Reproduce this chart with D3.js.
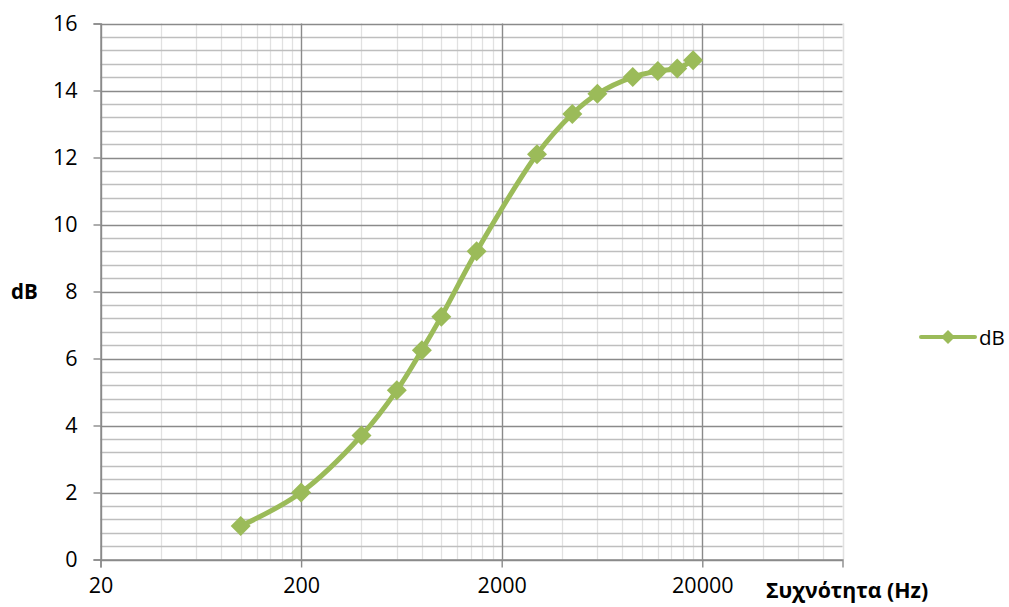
<!DOCTYPE html>
<html>
<head>
<meta charset="utf-8">
<script src="https://cdn.jsdelivr.net/npm/d3@7"></script>
<style>
  html, body { margin: 0; padding: 0; background: #ffffff; }
  svg { display: block; }
  text { font-family: "Open Sans", "Liberation Sans", sans-serif; fill: #000; }
</style>
</head>
<body>
<svg id="chart" width="1009" height="607"></svg>
<script>
// ---- data ----
const frequencies = [100, 200, 400, 600, 800, 1000, 1500, 3000, 4500, 6000, 9000, 12000, 15000, 18000];
const dbValues    = [1.0, 2.0, 3.7, 5.05, 6.25, 7.25, 9.2, 12.1, 13.3, 13.9, 14.4, 14.58, 14.66, 14.9];
const xTickLabels = [20, 200, 2000, 20000];
const yTickLabels = [0, 2, 4, 6, 8, 10, 12, 14, 16];
const seriesName = "dB";
const xTitle = "Συχνότητα (Hz)";
const yTitle = "dB";

const svg = d3.select("#chart");
const green = "#9BBB59";

const x = d3.scaleLog().base(10).domain([20, 100000]).range([100.5, 842.5]);
const y = d3.scaleLinear().domain([0, 16]).range([559.5, 23.5]);

// minor x gridlines: 20*k*10^n
const xMinor = [];
for (let dec = 20; dec < 100000; dec *= 10) {
  for (let k = 2; k <= 9; k++) {
    const v = dec * k;
    if (v <= 100000) xMinor.push(v);
  }
}
xMinor.push(100000);
const yMinor = d3.range(0, 16.001, 0.4).filter(v => Math.abs(v / 2 - Math.round(v / 2)) > 1e-6);

const grid = svg.append("g");
grid.selectAll(".vmin").data(xMinor).join("line")
  .attr("x1", d => Math.round(x(d)) + 0.5).attr("x2", d => Math.round(x(d)) + 0.5)
  .attr("y1", y(16)).attr("y2", y(0))
  .attr("stroke", "#e1e1e1").attr("stroke-width", 1.3);
grid.selectAll(".hmin").data(yMinor).join("line")
  .attr("x1", x(20)).attr("x2", x(100000))
  .attr("y1", d => Math.round(y(d)) + 0.5).attr("y2", d => Math.round(y(d)) + 0.5)
  .attr("stroke", "#bebebe").attr("stroke-width", 1.4);
grid.selectAll(".vmaj").data(xTickLabels).join("line")
  .attr("x1", d => Math.round(x(d)) + 0.5).attr("x2", d => Math.round(x(d)) + 0.5)
  .attr("y1", y(16)).attr("y2", y(0))
  .attr("stroke", "#8a8a8a").attr("stroke-width", 1.4);
grid.selectAll(".hmaj").data(yTickLabels).join("line")
  .attr("x1", x(20)).attr("x2", x(100000))
  .attr("y1", d => Math.round(y(d)) + 0.5).attr("y2", d => Math.round(y(d)) + 0.5)
  .attr("stroke", "#8a8a8a").attr("stroke-width", 1.4);

// axes
const yAxis = d3.axisLeft(y).tickValues(yTickLabels).tickSize(7).tickPadding(16).tickFormat(d3.format("d"));
const gy = svg.append("g").attr("transform", `translate(${x(20)},0)`).call(yAxis);
gy.select(".domain").attr("stroke", "#8a8a8a").attr("stroke-width", 1.4);
gy.selectAll(".tick line").attr("stroke", "#8a8a8a").attr("stroke-width", 1.4);
gy.selectAll(".tick text").attr("font-size", 21.5).attr("font-family", "Open Sans").attr("fill", "#000");

const xAxis = d3.axisBottom(x).tickValues(xTickLabels).tickSize(8).tickPadding(10).tickFormat(d3.format("d"));
const gx = svg.append("g").attr("transform", `translate(0,${y(0)})`).call(xAxis);
gx.select(".domain").attr("stroke", "#8a8a8a").attr("stroke-width", 1.4);
gx.selectAll(".tick line").attr("stroke", "#8a8a8a").attr("stroke-width", 1.4);
gx.selectAll(".tick text").attr("font-size", 21.5).attr("font-family", "Open Sans").attr("fill", "#000");

// titles
svg.append("text").attr("x", 766).attr("y", 598)
  .attr("font-size", 21.3).attr("font-weight", "bold").text(xTitle);
svg.append("text").attr("x", 11).attr("y", 299)
  .attr("font-size", 20.5).attr("font-weight", "bold").text(yTitle);

// series
const pts = frequencies.map((f, i) => [x(f), y(dbValues[i])]);
svg.append("path")
  .attr("d", d3.line().curve(d3.curveCatmullRom.alpha(0.5))(pts))
  .attr("fill", "none").attr("stroke", green).attr("stroke-width", 5)
  .attr("stroke-linejoin", "round").attr("stroke-linecap", "round");

const diamond = (cx, cy, r) => `M${cx},${cy - r}L${cx + r},${cy}L${cx},${cy + r}L${cx - r},${cy}Z`;
svg.append("g").selectAll("path").data(pts).join("path")
  .attr("d", d => diamond(d[0], d[1], 10))
  .attr("fill", green);

// legend
const lg = svg.append("g");
lg.append("line").attr("x1", 921).attr("x2", 975).attr("y1", 337).attr("y2", 337)
  .attr("stroke", green).attr("stroke-width", 4).attr("stroke-linecap", "round");
lg.append("path").attr("d", diamond(948, 337, 7)).attr("fill", green);
lg.append("text").attr("x", 979).attr("y", 345).attr("font-size", 20.5).text(seriesName);
</script>
</body>
</html>
